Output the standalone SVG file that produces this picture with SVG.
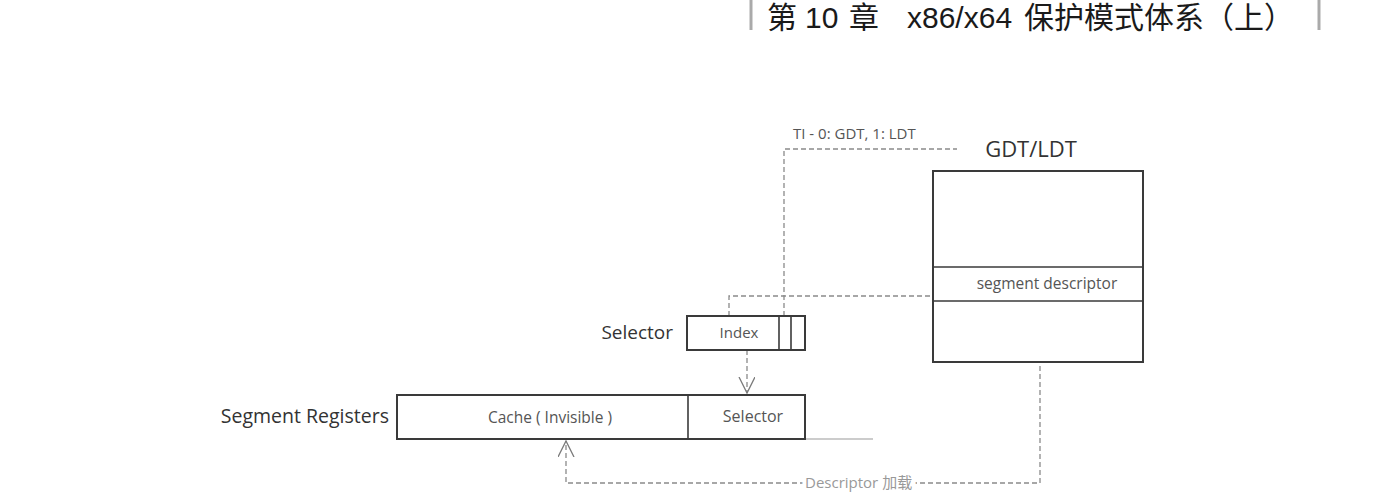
<svg xmlns="http://www.w3.org/2000/svg" width="1387" height="498" viewBox="0 0 1387 498">
<style>
.box{fill:#fff;stroke:#3a3a3a;stroke-width:2}
.div{stroke:#3a3a3a;stroke-width:1.6;fill:none}
.conn{fill:none;stroke:#8a8a8a;stroke-width:1.3;stroke-dasharray:5 3}
.solid{fill:none;stroke:#bbb;stroke-width:1.3}
.lbl{font-family:"Open Sans","Noto Sans",sans-serif;fill:#333}
.in{font-family:"Open Sans","Noto Sans",sans-serif;fill:#555}
.note{font-family:"Open Sans","Noto Sans","Noto Sans CJK SC",sans-serif;fill:#999}
.title{font-family:"Liberation Sans","Noto Sans CJK SC",sans-serif;fill:#1a1a1a;font-size:30px}
</style>
<defs>
<marker id="arr" markerUnits="userSpaceOnUse" markerWidth="18" markerHeight="18" refX="16" refY="8" orient="auto">
<path d="M0,0 L16,8 L0,16" fill="none" stroke="#7a7a7a" stroke-width="1.3"/>
</marker>
</defs>
<rect width="1387" height="498" fill="#fff"/>

<g id="header">
<line x1="751" y1="0" x2="751" y2="30" stroke="#aaa" stroke-width="3"/>
<line x1="1319" y1="0" x2="1319" y2="30" stroke="#aaa" stroke-width="3"/>
<text class="title" y="28"><tspan x="767">第</tspan><tspan x="805">10</tspan><tspan x="849">章</tspan><tspan x="907">x86/x64</tspan><tspan x="1024">保护模式体系（上）</tspan></text>
</g>

<g id="connectors">
<path class="conn" d="M784,316 V149 H957"/>
<path class="conn" d="M729,316 V296 H933"/>
<path class="conn" d="M747,350 V393" marker-end="url(#arr)"/>
<path class="conn" d="M1040,302 V483 H566 V441" marker-end="url(#arr)"/>
<line class="solid" x1="805" y1="439" x2="873" y2="439"/>
<text x="805" y="488" class="note" font-size="15" fill="#fff" stroke="#fff" stroke-width="8">Descriptor 加载</text>
<text x="805" y="488" class="note" font-size="15">Descriptor 加载</text>
<text x="793" y="139" class="in" font-size="15">TI - 0: GDT, 1: LDT</text>
</g>

<g id="gdt">
<text x="1031" y="157" class="lbl" font-size="22" text-anchor="middle">GDT/LDT</text>
<rect class="box" x="933" y="171" width="210" height="191"/>
<line class="div" x1="933" y1="267" x2="1143" y2="267"/>
<line class="div" x1="933" y1="301" x2="1143" y2="301"/>
<text x="1047" y="289" class="in" font-size="15.5" text-anchor="middle">segment descriptor</text>
</g>

<g id="selector">
<text x="673" y="339" class="lbl" font-size="19" text-anchor="end">Selector</text>
<rect class="box" x="687" y="316" width="118" height="34" stroke-width="1.6"/>
<line class="div" x1="779" y1="316" x2="779" y2="350"/>
<line class="div" x1="791" y1="316" x2="791" y2="350"/>
<text x="739" y="338" class="in" font-size="15" text-anchor="middle">Index</text>
</g>

<g id="segment-registers">
<text x="389" y="423" class="lbl" font-size="19.5" text-anchor="end">Segment Registers</text>
<rect class="box" x="397" y="395" width="408" height="44"/>
<line class="div" x1="688" y1="395" x2="688" y2="439"/>
<text x="550" y="423" class="in" font-size="15.5" text-anchor="middle">Cache ( Invisible )</text>
<text x="753" y="422" class="in" font-size="16" text-anchor="middle">Selector</text>
</g>
</svg>
